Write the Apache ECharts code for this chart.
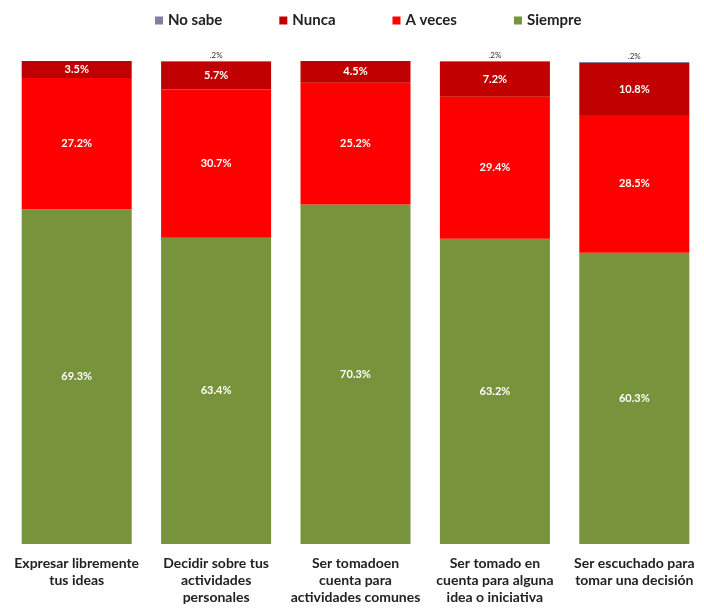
<!DOCTYPE html>
<html>
<head>
<meta charset="utf-8">
<script src="https://cdn.jsdelivr.net/npm/echarts@6/dist/echarts.min.js"></script>
<style>html,body{margin:0;padding:0;background:#fff}#c{width:704px;height:611px}</style>
</head>
<body>
<div id="c"></div>
<script>
var categories = [
  "Expresar libremente\ntus ideas",
  "Decidir sobre tus\nactividades\npersonales",
  "Ser tomadoen\ncuenta para\nactividades comunes",
  "Ser tomado en\ncuenta para alguna\nidea o iniciativa",
  "Ser escuchado para\ntomar una decisión"
];
var siempre = [69.3, 63.4, 70.3, 63.2, 60.3];
var aVeces = [27.2, 30.7, 25.2, 29.4, 28.5];
var nunca = [3.5, 5.7, 4.5, 7.2, 10.8];
var noSabe = [0, 0.2, 0, 0.2, 0.2];

var FONT = 'Lato';
function inLabel(p){ return p.value.toFixed(1) + '%'; }
function segLabel() {
  return {show: true, position: 'inside', color: '#fff', fontFamily: FONT, fontWeight: 'bold', fontSize: 11, formatter: inLabel};
}
var chart = echarts.init(document.getElementById('c'));
chart.setOption({
  animation: false,
  legend: {
    top: 8, left: 150, itemGap: 57, itemWidth: 8, itemHeight: 8, icon: 'rect',
    textStyle: {fontFamily: FONT, fontWeight: 'bold', fontSize: 15, color: '#222'},
    data: ['No sabe', 'Nunca', 'A veces', 'Siempre']
  },
  grid: {left: 7, width: 700, top: 61, bottom: 67},
  xAxis: {
    type: 'category', data: categories,
    axisLine: {show: false}, axisTick: {show: false},
    axisLabel: {interval: 0, margin: 11, fontFamily: FONT, fontWeight: 'bold', fontSize: 14, color: '#222', lineHeight: 17}
  },
  yAxis: {type: 'value', min: 0, max: 100, show: false, splitLine: {show: false}},
  series: [
    {name: 'Siempre', type: 'bar', stack: 't', data: siempre, barWidth: 110, itemStyle: {color: '#77933C'}, label: segLabel()},
    {name: 'A veces', type: 'bar', stack: 't', data: aVeces, itemStyle: {color: '#FF0000'}, label: segLabel()},
    {name: 'Nunca', type: 'bar', stack: 't', data: nunca, itemStyle: {color: '#C00000'}, label: segLabel()},
    {name: 'No sabe', type: 'bar', stack: 't', data: noSabe, itemStyle: {color: '#8080A0'},
      label: {show: true, position: 'top', distance: 2, color: '#333', fontFamily: FONT, fontSize: 8,
        formatter: function(p){ return p.value > 0 ? p.value.toFixed(1).replace(/^0/, '') + '%' : ''; }}}
  ]
});
</script>
</body>
</html>
